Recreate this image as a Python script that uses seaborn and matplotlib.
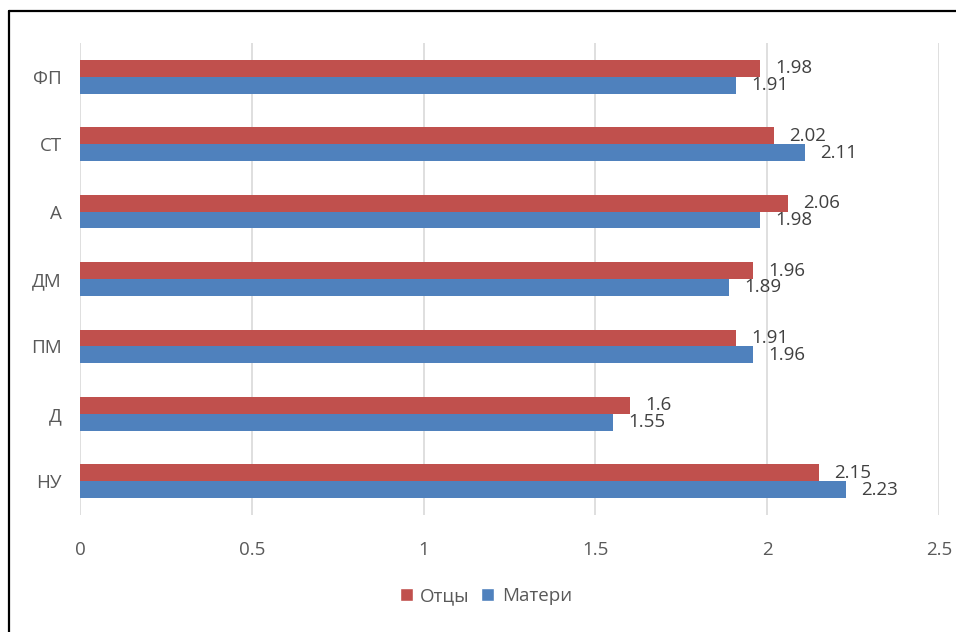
import matplotlib
matplotlib.use("Agg")
import matplotlib.pyplot as plt
from matplotlib.lines import Line2D
from matplotlib.patches import Patch
from matplotlib.ticker import FuncFormatter
import seaborn as sns
import pandas as pd

categories = ["ФП", "СТ", "А", "ДМ", "ПМ", "Д", "НУ"]
fathers = [1.98, 2.02, 2.06, 1.96, 1.91, 1.6, 2.15]
mothers = [1.91, 2.11, 1.98, 1.89, 1.96, 1.55, 2.23]
series_names = ["Отцы", "Матери"]
x_ticks = [0, 0.5, 1, 1.5, 2, 2.5]

RED = "#C0504D"
BLUE = "#4F81BD"
TEXT = "#595959"
LABEL = "#404040"
FONT = "Open Sans"
FS = 13.5

df = pd.DataFrame({
    "category": categories * 2,
    "value": fathers + mothers,
    "group": [series_names[0]] * len(categories) + [series_names[1]] * len(categories),
})

sns.set_theme(style="white")
plt.rcParams["font.family"] = [FONT, "DejaVu Sans"]

fig = plt.figure(figsize=(9.56, 6.32), dpi=100)
ax = fig.add_axes([0.0837, 0.185, 0.8985, 0.747])

sns.barplot(
    data=df, x="value", y="category", hue="group",
    order=categories, hue_order=series_names,
    palette=[RED, BLUE], orient="h", width=0.5,
    saturation=1, legend=False, linewidth=0, ax=ax,
)

for container in ax.containers:
    ax.bar_label(container, labels=[f"{v:g}" for v in container.datavalues],
                 padding=11, fontsize=FS, color=LABEL)

ax.set_xlim(0, 2.5)
ax.set_xticks(x_ticks)
ax.xaxis.set_major_formatter(FuncFormatter(lambda v, p: f"{v:g}"))
ax.set_xlabel("")
ax.set_ylabel("")
ax.grid(axis="x", color="#D9D9D9", linewidth=1.2)
ax.grid(axis="y", visible=False)
ax.set_axisbelow(True)
for s in ax.spines.values():
    s.set_visible(False)
ax.tick_params(axis="x", length=0, pad=19, labelsize=FS, labelcolor=TEXT)
ax.tick_params(axis="y", length=0, pad=13, labelsize=FS, labelcolor=TEXT)
ax.set_ylim(len(categories) - 0.5, -0.5)

handles = [Patch(facecolor=RED, label=series_names[0]),
           Patch(facecolor=BLUE, label=series_names[1])]
leg = fig.legend(handles=handles, loc="center", bbox_to_anchor=(0.508, 0.057),
                 ncol=2, frameon=False, fontsize=FS, handlelength=0.7,
                 handleheight=0.7, handletextpad=0.4, columnspacing=0.6)
for t in leg.get_texts():
    t.set_color(TEXT)

# outer frame lines (top and left)
fig.add_artist(Line2D([8.5 / 956, 8.5 / 956], [0, 1 - 11 / 632],
                      transform=fig.transFigure, color="black", linewidth=1.6))
fig.add_artist(Line2D([8.5 / 956, 1], [1 - 11 / 632, 1 - 11 / 632],
                      transform=fig.transFigure, color="black", linewidth=1.6))

fig.savefig("out.png", dpi=100, facecolor="white")
